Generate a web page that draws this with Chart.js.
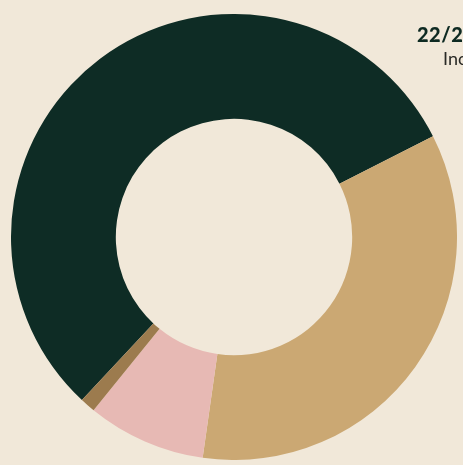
<!DOCTYPE html>
<html>
<head>
<meta charset="utf-8">
<script src="https://cdn.jsdelivr.net/npm/chart.js@4/dist/chart.umd.min.js"></script>
<style>
  html, body { margin: 0; padding: 0; }
  body {
    width: 463px; height: 465px; overflow: hidden; position: relative;
    background: #f1e8d9;
    font-family: 'Lato', 'Noto Sans', sans-serif;
  }
  #wrap { position: absolute; left: 11px; top: 14px; width: 446px; height: 446px; }
  .txt { position: absolute; white-space: nowrap; line-height: 1; }
  #season { left: 417px; top: 24px; font-size: 20px; font-weight: 900; letter-spacing: 0.5px; color: #0e2a22; }
  #sub { left: 443px; top: 49px; font-size: 18px; font-weight: 400; color: #2a2a26; }
</style>
</head>
<body>
<div id="wrap"><canvas id="myChart"></canvas></div>
<div class="txt" id="season">22/23</div>
<div class="txt" id="sub">Income</div>
<script>
// parts of the ring (percent)
var labels = ['A', 'B', 'C', 'D'];
var values = [55.6, 34.7, 8.6, 1.1];
var colours = ['#0e2c25', '#cba873', '#e7b9b4', '#9c7b4e'];

var data = {
    labels: labels,
    datasets: [{
        data: values,
        backgroundColor: colours,
        borderWidth: 0
    }]
};

var config = {
    type: 'doughnut',
    data: data,
    options: {
        responsive: true,
        maintainAspectRatio: false,
        animation: false,
        cutout: '53%',
        rotation: 223,
        layout: { padding: 0 },
        plugins: {
            legend: { display: false },
            tooltip: { enabled: false }
        }
    }
};

var myChart = new Chart(document.getElementById('myChart'), config);
</script>
</body>
</html>
